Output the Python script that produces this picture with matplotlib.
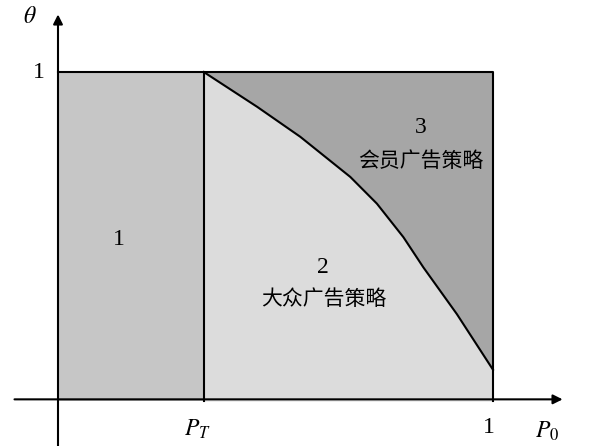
import matplotlib
matplotlib.use("Agg")
import matplotlib.pyplot as plt

plt.rcParams["mathtext.fontset"] = "stix"

# threshold price and boundary between region 2 and region 3
p_t = 0.335
curve_x = [0.335, 0.458, 0.557, 0.672, 0.733, 0.794, 0.840, 0.917, 1.0]
curve_y = [1.0, 0.894, 0.803, 0.681, 0.600, 0.498, 0.406, 0.264, 0.095]

region_labels = ["1", "2", "3"]
region_names = ["", "大众广告策略", "会员广告策略"]
region_colors = ["#c6c6c6", "#dcdcdc", "#a6a6a6"]

serif = ["Liberation Serif", "DejaVu Serif"]
cjk = ["Noto Sans CJK SC", "DejaVu Sans"]

fig = plt.figure(figsize=(5.89, 4.46), dpi=100)
ax = fig.add_axes([0, 0, 1, 1])
ax.set_xlim(-58 / 435, (589 - 58) / 435)
ax.set_ylim(-(446 - 401) / 329, 401 / 329)
ax.axis("off")

# regions
ax.fill_between([0, p_t], 0, 1, color=region_colors[0], lw=0)
ax.fill_between([p_t, 1], 0, 1, color=region_colors[2], lw=0)
ax.fill_between(curve_x, 0, curve_y, color=region_colors[1], lw=0)

# box and boundaries
ax.plot([0, 1, 1], [1, 1, 0], color="black", lw=1.5)
ax.plot([p_t, p_t], [0, 1], color="black", lw=1.5)
ax.plot(curve_x, curve_y, color="black", lw=1.5)

# axes with arrows
ax.annotate("", xy=(0, 1.175), xytext=(0, -0.14),
            arrowprops=dict(arrowstyle="-|>", color="black", lw=1.5,
                            mutation_scale=14, shrinkA=0, shrinkB=0))
ax.annotate("", xy=(1.16, 0.005), xytext=(-0.10, 0.005),
            arrowprops=dict(arrowstyle="-|>", color="black", lw=1.5,
                            mutation_scale=14, shrinkA=0, shrinkB=0))

# axis labels
ax.text(-0.065, 1.17, r"$\theta$", fontsize=17, ha="center", va="center")
ax.text(-0.03, 1.0, "1", family=serif, fontsize=17, ha="right", va="center")
ax.text(p_t - 0.015, -0.085, r"$P_T$", fontsize=17, ha="center", va="center")
ax.text(0.99, -0.08, "1", family=serif, fontsize=17, ha="center", va="center")
ax.text(1.125, -0.09, r"$P_0$", fontsize=17, ha="center", va="center")

# region labels
ax.text(0.14, 0.49, region_labels[0], family=serif, fontsize=17, ha="center", va="center")
ax.text(0.61, 0.405, region_labels[1], family=serif, fontsize=17, ha="center", va="center")
ax.text(0.61, 0.31, region_names[1], family=cjk, fontsize=15, ha="center", va="center")
ax.text(0.835, 0.83, region_labels[2], family=serif, fontsize=17, ha="center", va="center")
ax.text(0.835, 0.73, region_names[2], family=cjk, fontsize=15, ha="center", va="center")

fig.savefig("out.png", dpi=100)
